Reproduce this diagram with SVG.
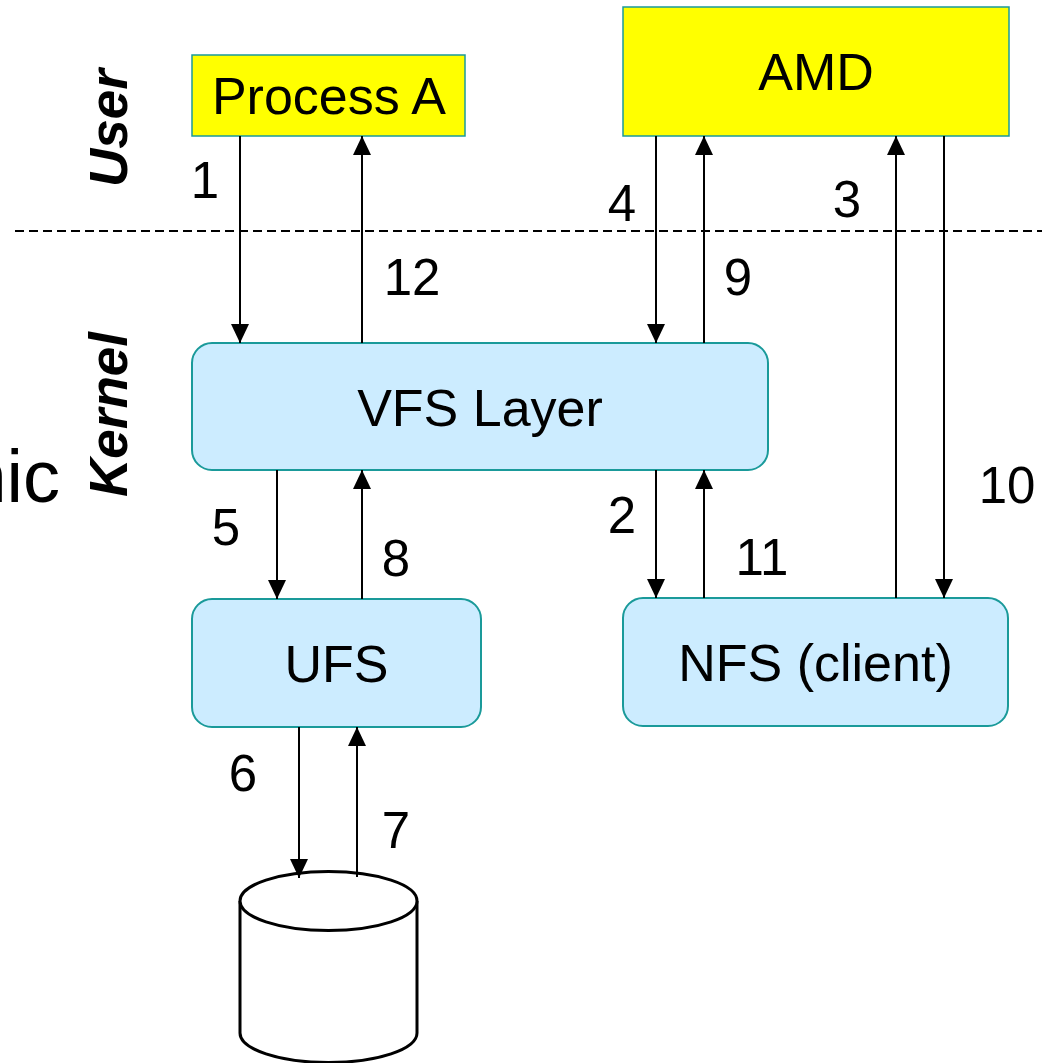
<svg xmlns="http://www.w3.org/2000/svg" width="1042" height="1063" viewBox="0 0 1042 1063">
  <style>
    text { font-family: "Liberation Sans", Arial, sans-serif; fill: #000; }
    .lbl { font-size: 52px; text-anchor: middle; }
    .num { font-size: 51px; text-anchor: middle; }
    .side { font-size: 53px; font-weight: bold; font-style: italic; }
    .user { fill: #FFFF00; stroke: #1A9A9A; stroke-width: 1.5; }
    .kern { fill: #CCECFF; stroke: #1A9A9A; stroke-width: 2; }
    .flow { stroke: #000; stroke-width: 2; fill: none; marker-end: url(#head); }
    .divider { stroke: #000; stroke-width: 2; stroke-dasharray: 9 5; }
    .disk { fill: #fff; stroke: #000; stroke-width: 3; }
  </style>
  <defs>
    <marker id="head" viewBox="0 0 19 18" refX="19" refY="9" markerWidth="19" markerHeight="18" markerUnits="userSpaceOnUse" orient="auto">
      <path d="M0,0 L19,9 L0,18 Z" fill="#000"/>
    </marker>
  </defs>
  <rect width="1042" height="1063" fill="#fff"/>

  <!-- user / kernel boundary -->
  <line class="divider" x1="15" y1="231" x2="1042" y2="231"/>

  <!-- side labels -->
  <text x="60" y="502" style="font-size:74px" text-anchor="end">nic</text>
  <text class="side" transform="translate(127,187) rotate(-90)">User</text>
  <text class="side" transform="translate(127,497) rotate(-90)">Kernel</text>

  <g id="process-a">
    <rect class="user" x="192" y="55" width="273" height="81"/>
    <text class="lbl" x="329" y="114">Process A</text>
  </g>
  <g id="amd">
    <rect class="user" x="623" y="7" width="386" height="129"/>
    <text class="lbl" x="816" y="90">AMD</text>
  </g>
  <g id="vfs-layer">
    <rect class="kern" x="192" y="343" width="576" height="127" rx="20"/>
    <text class="lbl" x="480" y="426">VFS Layer</text>
  </g>
  <g id="ufs">
    <rect class="kern" x="192" y="599" width="289" height="128" rx="20"/>
    <text class="lbl" x="336.5" y="682">UFS</text>
  </g>
  <g id="nfs-client">
    <rect class="kern" x="623" y="598" width="385" height="128" rx="20"/>
    <text class="lbl" x="815.5" y="681">NFS (client)</text>
  </g>
  <g id="disk">
    <path class="disk" d="M240,901 L240,1033 A88.5,29.5 0 0 0 417,1033 L417,901"/>
    <ellipse class="disk" cx="328.5" cy="901" rx="88.5" ry="29.5"/>
  </g>

  <g id="connectors">
    <line class="flow" x1="240" y1="136" x2="240" y2="343"/>
    <line class="flow" x1="362" y1="343" x2="362" y2="136"/>
    <line class="flow" x1="656" y1="136" x2="656" y2="343"/>
    <line class="flow" x1="704" y1="343" x2="704" y2="136"/>
    <line class="flow" x1="896" y1="598" x2="896" y2="136"/>
    <line class="flow" x1="944" y1="136" x2="944" y2="598"/>
    <line class="flow" x1="656" y1="470" x2="656" y2="598"/>
    <line class="flow" x1="704" y1="598" x2="704" y2="470"/>
    <line class="flow" x1="277" y1="470" x2="277" y2="599"/>
    <line class="flow" x1="362" y1="599" x2="362" y2="470"/>
    <line class="flow" x1="299" y1="727" x2="299" y2="878"/>
    <line class="flow" x1="357" y1="877" x2="357" y2="727"/>
  </g>

  <g id="step-numbers">
    <text class="num" x="205" y="198">1</text>
    <text class="num" x="622" y="221">4</text>
    <text class="num" x="847" y="217">3</text>
    <text class="num" x="412" y="295">12</text>
    <text class="num" x="738" y="295">9</text>
    <text class="num" x="1007" y="503">10</text>
    <text class="num" x="622" y="533">2</text>
    <text class="num" x="226" y="545">5</text>
    <text class="num" x="762" y="575">11</text>
    <text class="num" x="396" y="576">8</text>
    <text class="num" x="243" y="791">6</text>
    <text class="num" x="396" y="848">7</text>
  </g>
</svg>
